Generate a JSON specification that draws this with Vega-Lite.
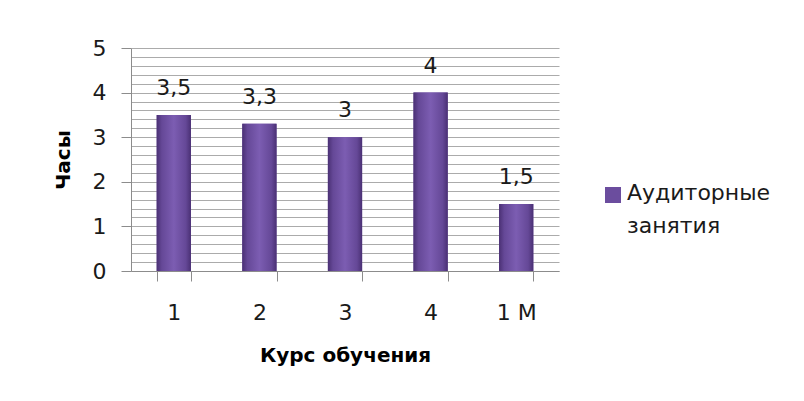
{
  "$schema": "https://vega.github.io/schema/vega-lite/v6.json",
  "width": 428,
  "height": 223,
  "autosize": "none",
  "padding": {"left": 131, "top": 48, "right": 245, "bottom": 130},
  "background": "white",
  "config": {
    "locale": {"number": {"decimal": ",", "thousands": " ", "grouping": [3], "currency": ["", " ₽"]}},
    "view": {"stroke": null},
    "font": "DejaVu Sans"
  },
  "data": {
    "values": [
      {"course": "1", "hours": 3.5, "series": "Аудиторные занятия"},
      {"course": "2", "hours": 3.3, "series": "Аудиторные занятия"},
      {"course": "3", "hours": 3, "series": "Аудиторные занятия"},
      {"course": "4", "hours": 4, "series": "Аудиторные занятия"},
      {"course": "1 М", "hours": 1.5, "series": "Аудиторные занятия"}
    ]
  },
  "encoding": {
    "x": {
      "field": "course",
      "type": "nominal",
      "sort": null,
      "scale": {"paddingInner": 0.6, "paddingOuter": 0.3},
      "axis": {
        "title": "Курс обучения",
        "titleFont": "DejaVu Sans",
        "titleFontWeight": "bold",
        "titleFontSize": 20,
        "titleColor": "#000000",
        "titlePadding": 22,
        "labelAngle": 0,
        "labelFont": "DejaVu Sans",
        "labelFontSize": 22,
        "labelColor": "#1a1a1a",
        "labelPadding": 21,
        "tickBand": "extent",
        "tickSize": 10,
        "tickColor": "#8c8c8c",
        "domainColor": "#8c8c8c",
        "grid": false
      }
    },
    "y": {
      "field": "hours",
      "type": "quantitative",
      "scale": {"domain": [0, 5], "nice": false},
      "axis": {
        "title": "Часы",
        "titleFont": "DejaVu Sans",
        "titleFontWeight": "bold",
        "titleFontSize": 20,
        "titleColor": "#000000",
        "titlePadding": 19,
        "values": [0, 0.2, 0.4, 0.6, 0.8, 1, 1.2, 1.4, 1.6, 1.8, 2, 2.2, 2.4, 2.6, 2.8, 3, 3.2, 3.4, 3.6, 3.8, 4, 4.2, 4.4, 4.6, 4.8, 5],
        "format": "~g",
        "labelExpr": "abs(datum.value - round(datum.value)) < 0.001 ? datum.label : ''",
        "labelOverlap": false,
        "labelFont": "DejaVu Sans",
        "labelFontSize": 22,
        "labelColor": "#1a1a1a",
        "labelPadding": 15,
        "tickSize": 10,
        "tickColor": "#8c8c8c",
        "tickOpacity": {"condition": {"test": "abs(datum.value - round(datum.value)) < 0.001", "value": 1}, "value": 0},
        "domainColor": "#8c8c8c",
        "grid": true,
        "gridColor": "#ababab",
        "gridWidth": 1
      }
    }
  },
  "layer": [
    {
      "mark": {"type": "bar"},
      "encoding": {
        "color": {
          "field": "series",
          "type": "nominal",
          "scale": {"range": ["#6b4d9e"]},
          "legend": {
            "title": null,
            "orient": "none",
            "legendX": 471,
            "legendY": 136,
            "padding": 0,
            "symbolType": "square",
            "symbolSize": 256,
            "symbolStrokeWidth": 0,
            "labelExpr": "split(datum.label, ' ')",
            "labelFont": "DejaVu Sans",
            "labelFontSize": 22,
            "labelColor": "#1a1a1a",
            "labelOffset": 3,
            "labelLimit": 300,
            "labelBaseline": "top",
            "encode": {"labels": {"update": {"lineHeight": {"value": 33}, "dy": {"value": -12}}}}
          }
        }
      }
    },
    {
      "mark": {
        "type": "bar",
        "color": {
          "gradient": "linear",
          "x1": 0, "x2": 1, "y1": 0, "y2": 0,
          "stops": [
            {"offset": 0, "color": "#4a3074"},
            {"offset": 0.15, "color": "#654897"},
            {"offset": 0.5, "color": "#7c5db2"},
            {"offset": 0.85, "color": "#654897"},
            {"offset": 1, "color": "#4a3074"}
          ]
        }
      }
    },
    {
      "mark": {"type": "text", "dy": -20, "baseline": "alphabetic", "fontSize": 22, "font": "DejaVu Sans", "color": "#1a1a1a"},
      "encoding": {"text": {"field": "hours", "type": "quantitative", "format": "~g"}}
    }
  ]
}
